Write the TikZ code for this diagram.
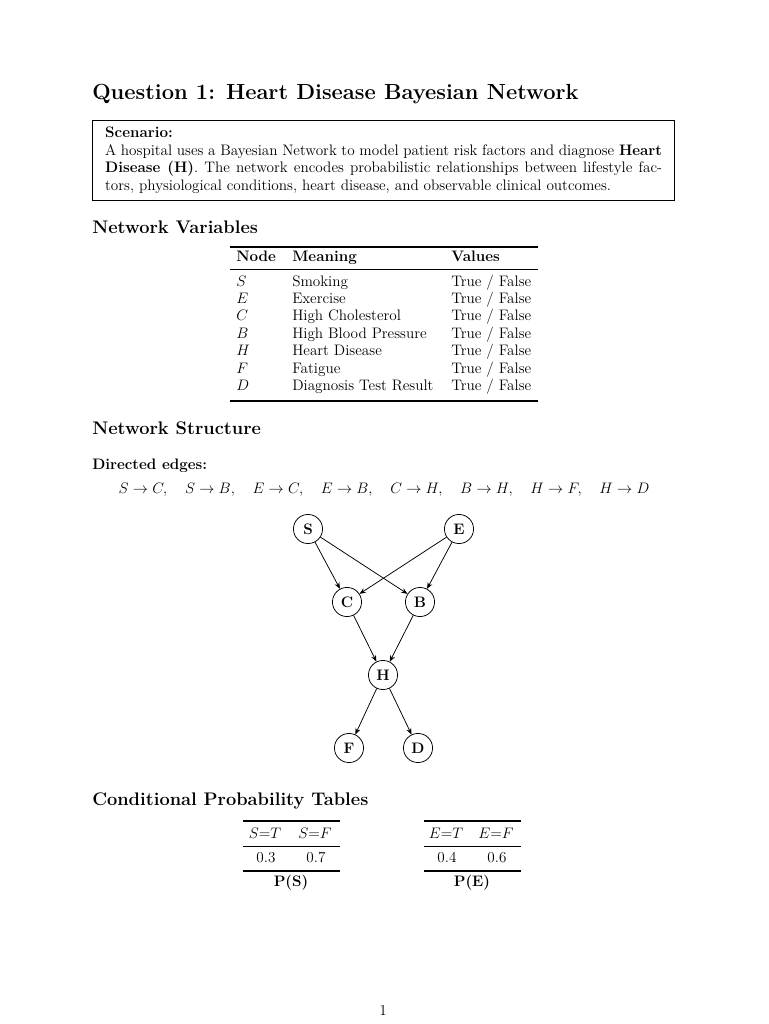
\documentclass[tikz,border=0pt]{standalone}
\usepackage{xcolor}
\usepackage{tikz}
\usetikzlibrary{arrows.meta,positioning}
\tikzset{
  pagetitle/.style={anchor=base west, inner sep=0pt,
        font=\fontsize{17.28}{22}\selectfont\bfseries},
  sechead/.style={anchor=base west, inner sep=0pt,
        font=\fontsize{14.4}{18}\selectfont\bfseries},
  bodytxt/.style={inner sep=0pt, font=\fontsize{12}{14.5}\selectfont},
  cell/.style={bodytxt, anchor=base west},
  ccell/.style={bodytxt, anchor=base},
  bnode/.style={draw, circle, minimum size=23pt, inner sep=0pt, line width=0.6pt,
        font=\fontsize{12}{14.5}\selectfont\bfseries},
  dep/.style={-{Stealth[length=5pt,width=4pt]}, line width=0.6pt},
  thickrule/.style={line width=0.9pt},
  thinrule/.style={line width=0.55pt}
}

\begin{document}
\begin{tikzpicture}[x=0.79pt, y=-0.79pt,
  scenbox/.style={draw, line width=0.8pt, anchor=north west, text width=440pt,
        inner xsep=10pt, inner ysep=5pt, align=justify,
        font=\fontsize{12}{14}\selectfont},
  bcell/.style={cell, font=\fontsize{12}{14.5}\selectfont\bfseries}
]
\useasboundingbox (0,0) rectangle (768,1024);

\node[pagetitle] (title) at (92,100) {Question 1: Heart Disease Bayesian Network};

\node[scenbox] (scen) at (92,120) {\textbf{Scenario:}\\ A hospital uses a Bayesian Network to model patient risk factors and diagnose \textbf{Heart}\linebreak \textbf{Disease (H)}. The network encodes probabilistic relationships between lifestyle fac-\linebreak tors, physiological conditions, heart disease, and observable clinical outcomes.};

% variables table
\node[sechead] (varhead) at (92,233) {Network Variables};
\draw[thickrule] (230,247) -- (538,247);
\node[bcell] (hnode) at (236,261) {Node};
\node[bcell] (hmean) at (292,261) {Meaning};
\node[bcell] (hval) at (451,261) {Values};
\draw[thinrule] (230,269) -- (538,269);
\foreach \sym/\mean [count=\i from 0] in {S/Smoking, E/Exercise, C/High Cholesterol,
    B/High Blood Pressure, H/Heart Disease, F/Fatigue, D/Diagnosis Test Result} {
  \node[cell] (v\i) at (236,{286+17.4*\i}) {$\sym$};
  \node[cell] (m\i) at (292,{286+17.4*\i}) {\mean};
  \node[cell] (t\i) at (451,{286+17.4*\i}) {True / False};
}
\draw[thickrule] (230,401) -- (538,401);

% structure
\node[sechead] (structhead) at (92,434) {Network Structure};
\node[bcell] (edgehead) at (92,469) {Directed edges:};
\node[ccell] (edgelist) at (384,493) {$S \to C,\quad S \to B,\quad E \to C,\quad E \to B,\quad C \to H,\quad B \to H,\quad H \to F,\quad H \to D$};

\node[bnode] (S) at (308,529) {S};
\node[bnode] (E) at (459,529) {E};
\node[bnode] (C) at (347,602) {C};
\node[bnode] (B) at (420,602) {B};
\node[bnode] (H) at (383,675) {H};
\node[bnode] (F) at (349,748) {F};
\node[bnode] (D) at (418,748) {D};

\draw[dep] (S) -- (C);
\draw[dep] (S) -- (B);
\draw[dep] (E) -- (C);
\draw[dep] (E) -- (B);
\draw[dep] (C) -- (H);
\draw[dep] (B) -- (H);
\draw[dep] (H) -- (F);
\draw[dep] (H) -- (D);

% CPTs
\node[sechead] (cpthead) at (92,805) {Conditional Probability Tables};

\draw[thickrule] (243,821) -- (340,821);
\node[ccell] (st) at (265,838) {$S{=}T$};
\node[ccell] (sf) at (315,838) {$S{=}F$};
\draw[thinrule] (243,846) -- (340,846);
\node[ccell] (pst) at (266,862) {0.3};
\node[ccell] (psf) at (316,862) {0.7};
\draw[thickrule] (243,871) -- (340,871);
\node[ccell, font=\fontsize{12}{14.5}\selectfont\bfseries] (capS) at (291,886) {P(S)};

\draw[thickrule] (424,821) -- (521,821);
\node[ccell] (et) at (446,838) {$E{=}T$};
\node[ccell] (ef) at (496,838) {$E{=}F$};
\draw[thinrule] (424,846) -- (521,846);
\node[ccell] (pet) at (447,862) {0.4};
\node[ccell] (pef) at (497,862) {0.6};
\draw[thickrule] (424,871) -- (521,871);
\node[ccell, font=\fontsize{12}{14.5}\selectfont\bfseries] (capE) at (472,886) {P(E)};

\node[ccell] (pageno) at (383,1015) {1};
\end{tikzpicture}
\end{document}
